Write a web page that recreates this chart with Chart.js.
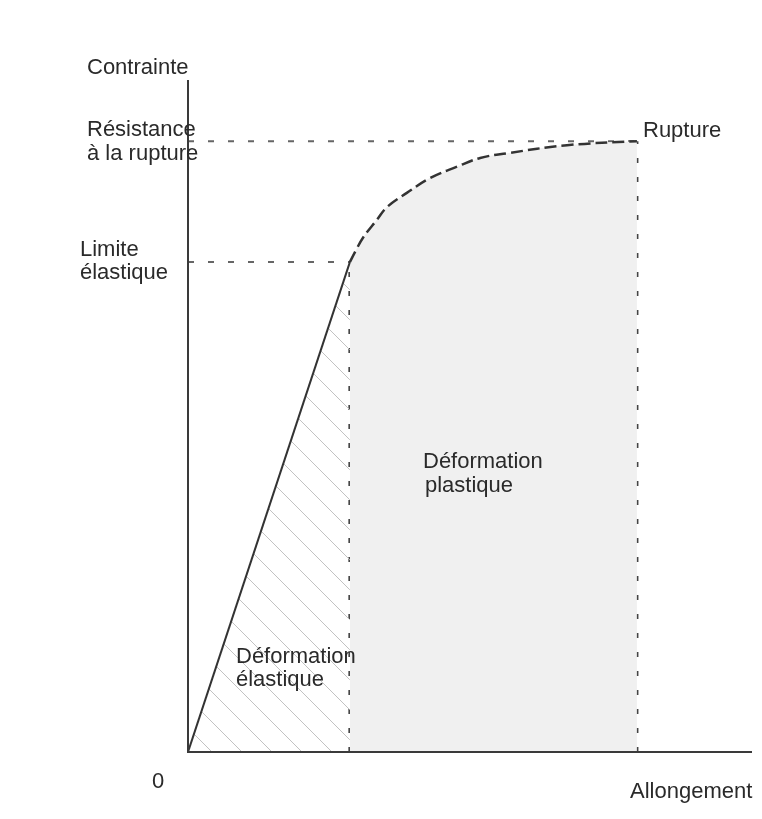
<!DOCTYPE html>
<html>
<head>
<meta charset="utf-8">
<script src="https://cdn.jsdelivr.net/npm/chart.js@4/dist/chart.umd.min.js"></script>
<style>
  body { margin: 0; background: #fff; }
  canvas { display: block; }
</style>
</head>
<body>
<canvas id="courbe" width="762" height="819"></canvas>
<script>
// courbe contrainte / allongement (unités arbitraires, 0..100)
var elastiqueX = [0, 28.7];
var elastiqueY = [0, 72.9];
var plastiqueX = [28.7, 29.8, 31.0, 33.5, 35.3, 38.8, 42.9, 47.7, 51.8, 56.6, 67.2, 79.6];
var plastiqueY = [72.9, 74.7, 76.5, 79.2, 81.1, 83.2, 85.4, 87.1, 88.4, 89.1, 90.3, 90.9];
var limiteElastique = 72.9;
var resistanceRupture = 90.9;
var allongElastique = 28.7;
var allongRupture = 79.6;

function points(xs, ys) {
    return xs.map(function(x, i) { return { x: x, y: ys[i] }; });
}

// motif hachuré pour la zone élastique
function hachures() {
    var s = 30;
    var c = document.createElement('canvas');
    c.width = s; c.height = s;
    var g = c.getContext('2d');
    g.strokeStyle = '#c2c2c2';
    g.lineWidth = 1;
    g.beginPath();
    g.moveTo(-2, -2); g.lineTo(s + 2, s + 2);
    g.stroke();
    return g.createPattern(c, 'repeat');
}

var police = '22px "Liberation Sans", Arial, sans-serif';
var textes = [
    { t: 'Contrainte', x: 87, y: 74 },
    { t: 'Résistance', x: 87, y: 136 },
    { t: 'à la rupture', x: 87, y: 160 },
    { t: 'Limite', x: 80, y: 256 },
    { t: 'élastique', x: 80, y: 279 },
    { t: 'Rupture', x: 643, y: 137 },
    { t: 'Déformation', x: 423, y: 468 },
    { t: 'plastique', x: 425, y: 492 },
    { t: 'Déformation', x: 236, y: 663 },
    { t: 'élastique', x: 236, y: 686 },
    { t: '0', x: 152, y: 788 },
    { t: 'Allongement', x: 630, y: 798 }
];

var axesEtTextes = {
    id: 'axesEtTextes',
    afterDatasetsDraw: function(chart) {
        var ctx = chart.ctx;
        var a = chart.chartArea;
        ctx.save();
        ctx.strokeStyle = '#3a3a3a';
        ctx.lineWidth = 2;
        ctx.beginPath();
        ctx.moveTo(a.left, a.top);
        ctx.lineTo(a.left, a.bottom);
        ctx.lineTo(a.right, a.bottom);
        ctx.stroke();
        ctx.fillStyle = '#2a2a2a';
        ctx.font = police;
        ctx.textBaseline = 'alphabetic';
        textes.forEach(function(l) { ctx.fillText(l.t, l.x, l.y); });
        ctx.restore();
    }
};

var ctx = document.getElementById('courbe');
var graphique = new Chart(ctx, {
    type: 'line',
    data: {
        datasets: [{
            data: points(elastiqueX, elastiqueY),
            borderColor: '#333',
            borderWidth: 2,
            fill: 'origin',
            backgroundColor: hachures(),
            pointRadius: 0
        }, {
            data: points(plastiqueX, plastiqueY),
            borderColor: '#333',
            borderWidth: 2.5,
            borderDash: [12, 5],
            tension: 0.4,
            fill: 'origin',
            backgroundColor: '#f0f0f0',
            pointRadius: 0
        }, {
            data: points([0, allongRupture], [resistanceRupture, resistanceRupture]),
            borderColor: '#666',
            borderWidth: 2,
            borderDash: [6, 14],
            pointRadius: 0
        }, {
            data: points([0, allongElastique], [limiteElastique, limiteElastique]),
            borderColor: '#666',
            borderWidth: 2,
            borderDash: [6, 14],
            pointRadius: 0
        }, {
            data: points([allongElastique, allongElastique], [0, limiteElastique]),
            borderColor: '#444',
            borderWidth: 3,
            borderDash: [5, 14],
            pointRadius: 0
        }, {
            data: points([allongRupture, allongRupture], [0, resistanceRupture]),
            borderColor: '#444',
            borderWidth: 3,
            borderDash: [5, 14],
            pointRadius: 0
        }]
    },
    options: {
        responsive: false,
        animation: false,
        layout: { padding: { left: 188, right: 10, top: 80, bottom: 67 } },
        plugins: { legend: { display: false }, tooltip: { enabled: false } },
        scales: {
            x: { type: 'linear', min: 0, max: 100, display: false },
            y: { min: 0, max: 100, display: false }
        }
    },
    plugins: [axesEtTextes]
});
</script>
</body>
</html>
